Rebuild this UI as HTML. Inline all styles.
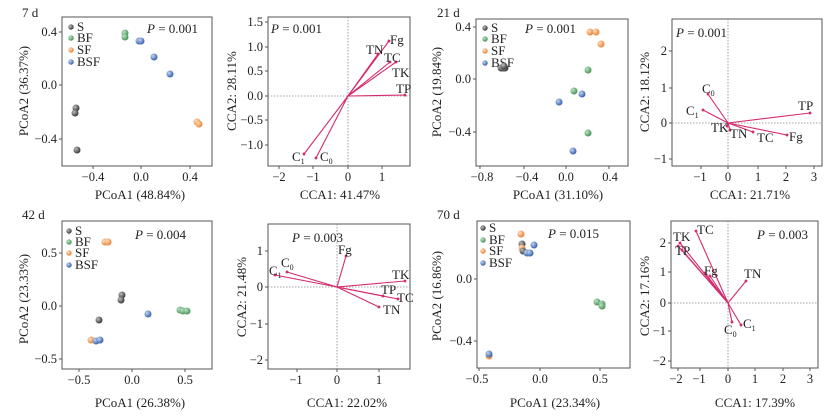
<!DOCTYPE html>
<html><head><meta charset="utf-8"><style>
html,body{margin:0;padding:0;background:#fff}
svg{display:block;font-family:"Liberation Serif",serif}
.t{font-size:12.5px;fill:#222}
.a{font-size:13px;fill:#222}
.l{font-size:13px;fill:#222}
.v{font-size:13px;fill:#222}
.box{fill:none;stroke:#555;stroke-width:1}
.tk{stroke:#555;stroke-width:1}
.dl{stroke:#888;stroke-width:0.8;stroke-dasharray:1.5,1.5}
.ar{stroke:#d42a6e;stroke-width:1.1;marker-end:url(#m)}
</style></head><body>
<svg width="835" height="418" viewBox="0 0 835 418" xmlns="http://www.w3.org/2000/svg">
<defs>
<marker id="m" markerWidth="4" markerHeight="4" refX="2" refY="2" orient="auto"><circle cx="2" cy="2" r="1.3" fill="#d42a6e"/></marker>
<radialGradient id="gS" cx="0.35" cy="0.35" r="0.7"><stop offset="0" stop-color="#bbb"/><stop offset="1" stop-color="#333"/></radialGradient>
<radialGradient id="gB" cx="0.35" cy="0.35" r="0.7"><stop offset="0" stop-color="#bfe3c4"/><stop offset="1" stop-color="#3e8f52"/></radialGradient>
<radialGradient id="gF" cx="0.35" cy="0.35" r="0.7"><stop offset="0" stop-color="#fde0c4"/><stop offset="1" stop-color="#ea7d2c"/></radialGradient>
<radialGradient id="gU" cx="0.35" cy="0.35" r="0.7"><stop offset="0" stop-color="#c3d3f0"/><stop offset="1" stop-color="#2f5ca8"/></radialGradient>
</defs>

<!-- ===== Panel 1: 7 d PCoA ===== -->
<text x="22" y="17" class="a">7 d</text>
<rect x="62" y="17" width="150" height="149" class="box"/>
<g class="tk"><line x1="59" y1="32" x2="62" y2="32"/><line x1="59" y1="85" x2="62" y2="85"/><line x1="59" y1="139" x2="62" y2="139"/>
<line x1="93" y1="166" x2="93" y2="169"/><line x1="141" y1="166" x2="141" y2="169"/><line x1="190" y1="166" x2="190" y2="169"/></g>
<g class="t" text-anchor="end"><text x="57" y="36">0.4</text><text x="57" y="89">0.0</text><text x="57" y="143">−0.4</text></g>
<g class="t" text-anchor="middle"><text x="93" y="181">−0.4</text><text x="141" y="181">0.0</text><text x="190" y="181">0.4</text></g>
<text x="140" y="199" class="a" text-anchor="middle">PCoA1 (48.84%)</text>
<text transform="translate(28,91) rotate(-90)" class="a" text-anchor="middle">PCoA2 (36.37%)</text>
<circle cx="71" cy="27" r="2.7" fill="url(#gS)"/><circle cx="71" cy="38" r="2.7" fill="url(#gB)"/><circle cx="71" cy="50" r="2.7" fill="url(#gF)"/><circle cx="71" cy="62" r="2.7" fill="url(#gU)"/>
<g class="l"><text x="77" y="31">S</text><text x="77" y="42">BF</text><text x="77" y="54">SF</text><text x="77" y="66">BSF</text></g>
<text x="147" y="33" class="l"><tspan font-style="italic">P</tspan> = 0.001</text>
<g><circle cx="76" cy="108" r="3.5" fill="url(#gS)"/><circle cx="75" cy="113" r="3.5" fill="url(#gS)"/><circle cx="77" cy="150" r="3.5" fill="url(#gS)"/>
<circle cx="125" cy="33" r="3.5" fill="url(#gB)"/><circle cx="125" cy="37" r="3.5" fill="url(#gB)"/>
<circle cx="139" cy="41" r="3.5" fill="url(#gU)"/><circle cx="141" cy="41" r="3.5" fill="url(#gU)"/><circle cx="154" cy="57" r="3.5" fill="url(#gU)"/><circle cx="170" cy="74" r="3.5" fill="url(#gU)"/>
<circle cx="197" cy="122" r="3.5" fill="url(#gF)"/><circle cx="199" cy="124" r="3.5" fill="url(#gF)"/></g>

<!-- ===== Panel 2: 7 d CCA ===== -->
<rect x="268" y="17" width="142" height="149" class="box"/>
<line x1="348" y1="17" x2="348" y2="166" class="dl"/><line x1="268" y1="96" x2="410" y2="96" class="dl"/>
<g class="tk"><line x1="265" y1="22" x2="268" y2="22"/><line x1="265" y1="47" x2="268" y2="47"/><line x1="265" y1="71" x2="268" y2="71"/><line x1="265" y1="96" x2="268" y2="96"/><line x1="265" y1="120" x2="268" y2="120"/><line x1="265" y1="145" x2="268" y2="145"/>
<line x1="279" y1="166" x2="279" y2="169"/><line x1="313" y1="166" x2="313" y2="169"/><line x1="348" y1="166" x2="348" y2="169"/><line x1="382" y1="166" x2="382" y2="169"/></g>
<g class="t" text-anchor="end"><text x="263" y="26">1.5</text><text x="263" y="51">1.0</text><text x="263" y="75">0.5</text><text x="263" y="100">0.0</text><text x="263" y="124">−0.5</text><text x="263" y="149">−1.0</text></g>
<g class="t" text-anchor="middle"><text x="279" y="181">−2</text><text x="313" y="181">−1</text><text x="348" y="181">0</text><text x="382" y="181">1</text></g>
<text x="340" y="199" class="a" text-anchor="middle">CCA1: 41.47%</text>
<text transform="translate(236,91) rotate(-90)" class="a" text-anchor="middle">CCA2: 28.11%</text>
<text x="271" y="33" class="l"><tspan font-style="italic">P</tspan> = 0.001</text>
<g class="ar"><line x1="348" y1="96" x2="389" y2="41"/><line x1="348" y1="96" x2="378" y2="54"/><line x1="348" y1="96" x2="390" y2="62"/><line x1="348" y1="96" x2="396" y2="62"/><line x1="348" y1="96" x2="405" y2="95"/><line x1="348" y1="96" x2="304" y2="154"/><line x1="348" y1="96" x2="316" y2="158"/></g>
<g class="v"><text x="390" y="44">Fg</text><text x="366" y="54">TN</text><text x="384" y="62">TC</text><text x="392" y="77">TK</text><text x="396" y="93">TP</text>
<text x="292" y="161">C<tspan font-size="8" dy="3">1</tspan></text><text x="320" y="161">C<tspan font-size="8" dy="3">0</tspan></text></g>

<!-- ===== Panel 3: 21 d PCoA ===== -->
<text x="437" y="17" class="a">21 d</text>
<rect x="476" y="19" width="152" height="147" class="box"/>
<g class="tk"><line x1="473" y1="27" x2="476" y2="27"/><line x1="473" y1="79" x2="476" y2="79"/><line x1="473" y1="132" x2="476" y2="132"/>
<line x1="480" y1="166" x2="480" y2="169"/><line x1="524" y1="166" x2="524" y2="169"/><line x1="566" y1="166" x2="566" y2="169"/><line x1="609" y1="166" x2="609" y2="169"/></g>
<g class="t" text-anchor="end"><text x="471" y="31">0.4</text><text x="471" y="83">0.0</text><text x="471" y="136">−0.4</text></g>
<g class="t" text-anchor="middle"><text x="482" y="181">−0.8</text><text x="527" y="181">−0.4</text><text x="566" y="181">0.0</text><text x="610" y="181">0.4</text></g>
<text x="558" y="199" class="a" text-anchor="middle">PCoA1 (31.10%)</text>
<text transform="translate(441,92) rotate(-90)" class="a" text-anchor="middle">PCoA2 (19.84%)</text>
<circle cx="485" cy="28" r="2.7" fill="url(#gS)"/><circle cx="485" cy="39" r="2.7" fill="url(#gB)"/><circle cx="485" cy="51" r="2.7" fill="url(#gF)"/><circle cx="485" cy="63" r="2.7" fill="url(#gU)"/>
<g class="l"><text x="491" y="32">S</text><text x="491" y="43">BF</text><text x="491" y="55">SF</text><text x="491" y="67">BSF</text></g>
<text x="525" y="33" class="l"><tspan font-style="italic">P</tspan> = 0.001</text>
<g><circle cx="501" cy="68" r="3.5" fill="url(#gS)"/><circle cx="503" cy="68" r="3.5" fill="url(#gS)"/><circle cx="505" cy="68" r="3.5" fill="url(#gS)"/><circle cx="504" cy="66" r="3.5" fill="url(#gS)"/>
<circle cx="588" cy="70" r="3.5" fill="url(#gB)"/><circle cx="574" cy="91" r="3.5" fill="url(#gB)"/><circle cx="588" cy="133" r="3.5" fill="url(#gB)"/>
<circle cx="559" cy="102" r="3.5" fill="url(#gU)"/><circle cx="582" cy="94" r="3.5" fill="url(#gU)"/><circle cx="573" cy="151" r="3.5" fill="url(#gU)"/>
<circle cx="590" cy="32" r="3.5" fill="url(#gF)"/><circle cx="596" cy="32" r="3.5" fill="url(#gF)"/><circle cx="601" cy="44" r="3.5" fill="url(#gF)"/></g>

<!-- ===== Panel 4: 21 d CCA ===== -->
<rect x="672" y="19" width="150" height="147" class="box"/>
<line x1="728" y1="19" x2="728" y2="166" class="dl"/><line x1="672" y1="123" x2="822" y2="123" class="dl"/>
<g class="tk"><line x1="669" y1="51" x2="672" y2="51"/><line x1="669" y1="88" x2="672" y2="88"/><line x1="669" y1="123" x2="672" y2="123"/><line x1="669" y1="159" x2="672" y2="159"/>
<line x1="701" y1="166" x2="701" y2="169"/><line x1="728" y1="166" x2="728" y2="169"/><line x1="758" y1="166" x2="758" y2="169"/><line x1="786" y1="166" x2="786" y2="169"/><line x1="814" y1="166" x2="814" y2="169"/></g>
<g class="t" text-anchor="end"><text x="667" y="55">2</text><text x="667" y="92">1</text><text x="667" y="127">0</text><text x="667" y="163">−1</text></g>
<g class="t" text-anchor="middle"><text x="700" y="181">−1</text><text x="728" y="181">0</text><text x="758" y="181">1</text><text x="786" y="181">2</text><text x="814" y="181">3</text></g>
<text x="750" y="199" class="a" text-anchor="middle">CCA1: 21.71%</text>
<text transform="translate(649,92) rotate(-90)" class="a" text-anchor="middle">CCA2: 18.12%</text>
<text x="676" y="37" class="l"><tspan font-style="italic">P</tspan> = 0.001</text>
<g class="ar"><line x1="728" y1="123" x2="708" y2="94"/><line x1="728" y1="123" x2="703" y2="110"/><line x1="728" y1="123" x2="810" y2="113"/><line x1="728" y1="123" x2="787" y2="135"/><line x1="728" y1="123" x2="753" y2="132"/><line x1="728" y1="123" x2="730" y2="130"/><line x1="728" y1="123" x2="727" y2="126"/></g>
<g class="v"><text x="702" y="93">C<tspan font-size="8" dy="3">0</tspan></text><text x="686" y="115">C<tspan font-size="8" dy="3">1</tspan></text><text x="798" y="110">TP</text><text x="789" y="141">Fg</text><text x="757" y="142">TC</text><text x="730" y="138">TN</text><text x="711" y="132">TK</text></g>

<!-- ===== Panel 5: 42 d PCoA ===== -->
<text x="22" y="219" class="a">42 d</text>
<rect x="62" y="221" width="150" height="148" class="box"/>
<g class="tk"><line x1="59" y1="253" x2="62" y2="253"/><line x1="59" y1="306" x2="62" y2="306"/><line x1="59" y1="359" x2="62" y2="359"/>
<line x1="79" y1="369" x2="79" y2="372"/><line x1="132" y1="369" x2="132" y2="372"/><line x1="185" y1="369" x2="185" y2="372"/></g>
<g class="t" text-anchor="end"><text x="57" y="257">0.5</text><text x="57" y="310">0.0</text><text x="57" y="363">−0.5</text></g>
<g class="t" text-anchor="middle"><text x="79" y="384">−0.5</text><text x="132" y="384">0.0</text><text x="185" y="384">0.5</text></g>
<text x="140" y="407" class="a" text-anchor="middle">PCoA1 (26.38%)</text>
<text transform="translate(28,299) rotate(-90)" class="a" text-anchor="middle">PCoA2 (23.33%)</text>
<circle cx="69" cy="231" r="2.7" fill="url(#gS)"/><circle cx="69" cy="242" r="2.7" fill="url(#gB)"/><circle cx="69" cy="253" r="2.7" fill="url(#gF)"/><circle cx="69" cy="265" r="2.7" fill="url(#gU)"/>
<g class="l"><text x="75" y="235">S</text><text x="75" y="246">BF</text><text x="75" y="257">SF</text><text x="75" y="269">BSF</text></g>
<text x="135" y="239" class="l"><tspan font-style="italic">P</tspan> = 0.004</text>
<g><circle cx="122" cy="295" r="3.5" fill="url(#gS)"/><circle cx="121" cy="300" r="3.5" fill="url(#gS)"/><circle cx="99" cy="320" r="3.5" fill="url(#gS)"/>
<circle cx="180" cy="310" r="3.5" fill="url(#gB)"/><circle cx="183" cy="311" r="3.5" fill="url(#gB)"/><circle cx="187" cy="311" r="3.5" fill="url(#gB)"/>
<circle cx="105" cy="242" r="3.5" fill="url(#gF)"/><circle cx="108" cy="242" r="3.5" fill="url(#gF)"/><circle cx="91" cy="340" r="3.5" fill="url(#gF)"/>
<circle cx="148" cy="314" r="3.5" fill="url(#gU)"/><circle cx="96" cy="341" r="3.5" fill="url(#gU)"/><circle cx="100" cy="340" r="3.5" fill="url(#gU)"/></g>

<!-- ===== Panel 6: 42 d CCA ===== -->
<rect x="268" y="224" width="142" height="145" class="box"/>
<line x1="337" y1="224" x2="337" y2="369" class="dl"/><line x1="268" y1="287" x2="410" y2="287" class="dl"/>
<g class="tk"><line x1="265" y1="251" x2="268" y2="251"/><line x1="265" y1="287" x2="268" y2="287"/><line x1="265" y1="324" x2="268" y2="324"/><line x1="265" y1="360" x2="268" y2="360"/>
<line x1="297" y1="369" x2="297" y2="372"/><line x1="337" y1="369" x2="337" y2="372"/><line x1="379" y1="369" x2="379" y2="372"/></g>
<g class="t" text-anchor="end"><text x="263" y="255">1</text><text x="263" y="291">0</text><text x="263" y="328">−1</text><text x="263" y="364">−2</text></g>
<g class="t" text-anchor="middle"><text x="296" y="384">−1</text><text x="337" y="384">0</text><text x="379" y="384">1</text></g>
<text x="347" y="407" class="a" text-anchor="middle">CCA1: 22.02%</text>
<text transform="translate(246,297) rotate(-90)" class="a" text-anchor="middle">CCA2: 21.48%</text>
<text x="292" y="242" class="l"><tspan font-style="italic">P</tspan> = 0.003</text>
<g class="ar"><line x1="337" y1="287" x2="346" y2="256"/><line x1="337" y1="287" x2="287" y2="272"/><line x1="337" y1="287" x2="275" y2="275"/><line x1="337" y1="287" x2="405" y2="281"/><line x1="337" y1="287" x2="383" y2="296"/><line x1="337" y1="287" x2="398" y2="299"/><line x1="337" y1="287" x2="379" y2="307"/></g>
<g class="v"><text x="338" y="254">Fg</text><text x="269" y="275">C<tspan font-size="8" dy="3">1</tspan></text><text x="281" y="267">C<tspan font-size="8" dy="3">0</tspan></text><text x="392" y="279">TK</text><text x="381" y="294">TP</text><text x="397" y="302">TC</text><text x="383" y="314">TN</text></g>

<!-- ===== Panel 7: 70 d PCoA ===== -->
<text x="437" y="219" class="a">70 d</text>
<rect x="477" y="221" width="153" height="147" class="box"/>
<g class="tk"><line x1="474" y1="279" x2="477" y2="279"/><line x1="474" y1="341" x2="477" y2="341"/>
<line x1="479" y1="368" x2="479" y2="371"/><line x1="540" y1="368" x2="540" y2="371"/><line x1="600" y1="368" x2="600" y2="371"/></g>
<g class="t" text-anchor="end"><text x="472" y="283">0.0</text><text x="472" y="345">−0.4</text></g>
<g class="t" text-anchor="middle"><text x="477" y="383">−0.5</text><text x="540" y="383">0.0</text><text x="600" y="383">0.5</text></g>
<text x="555" y="407" class="a" text-anchor="middle">PCoA1 (23.34%)</text>
<text transform="translate(441,296) rotate(-90)" class="a" text-anchor="middle">PCoA2 (16.86%)</text>
<circle cx="483" cy="228" r="2.7" fill="url(#gS)"/><circle cx="483" cy="240" r="2.7" fill="url(#gB)"/><circle cx="483" cy="251" r="2.7" fill="url(#gF)"/><circle cx="483" cy="263" r="2.7" fill="url(#gU)"/>
<g class="l"><text x="489" y="232">S</text><text x="489" y="244">BF</text><text x="489" y="255">SF</text><text x="489" y="267">BSF</text></g>
<text x="548" y="238" class="l"><tspan font-style="italic">P</tspan> = 0.015</text>
<g><circle cx="521" cy="234" r="3.5" fill="url(#gF)"/><circle cx="522" cy="244" r="3.5" fill="url(#gS)"/><circle cx="522" cy="248" r="3.5" fill="url(#gF)"/><circle cx="523" cy="251" r="3.5" fill="url(#gS)"/>
<circle cx="527" cy="253" r="3.5" fill="url(#gU)"/><circle cx="530" cy="253" r="3.5" fill="url(#gU)"/><circle cx="534" cy="245" r="3.5" fill="url(#gU)"/>
<circle cx="597" cy="302" r="3.5" fill="url(#gB)"/><circle cx="602" cy="304" r="3.5" fill="url(#gB)"/><circle cx="602" cy="306" r="3.5" fill="url(#gB)"/>
<circle cx="489" cy="356" r="3.5" fill="url(#gF)"/><circle cx="489" cy="354" r="3.5" fill="url(#gU)"/></g>

<!-- ===== Panel 8: 70 d CCA ===== -->
<rect x="671" y="221" width="147" height="147" class="box"/>
<line x1="728" y1="221" x2="728" y2="368" class="dl"/><line x1="671" y1="303" x2="818" y2="303" class="dl"/>
<g class="tk"><line x1="668" y1="243" x2="671" y2="243"/><line x1="668" y1="272" x2="671" y2="272"/><line x1="668" y1="303" x2="671" y2="303"/><line x1="668" y1="331" x2="671" y2="331"/><line x1="668" y1="361" x2="671" y2="361"/>
<line x1="678" y1="368" x2="678" y2="371"/><line x1="700" y1="368" x2="700" y2="371"/><line x1="728" y1="368" x2="728" y2="371"/><line x1="755" y1="368" x2="755" y2="371"/><line x1="783" y1="368" x2="783" y2="371"/><line x1="810" y1="368" x2="810" y2="371"/></g>
<g class="t" text-anchor="end"><text x="666" y="247">2</text><text x="666" y="276">1</text><text x="666" y="307">0</text><text x="666" y="335">−1</text><text x="666" y="365">−2</text></g>
<g class="t" text-anchor="middle"><text x="676" y="383">−2</text><text x="699" y="383">−1</text><text x="728" y="383">0</text><text x="755" y="383">1</text><text x="783" y="383">2</text><text x="810" y="383">3</text></g>
<text x="755" y="407" class="a" text-anchor="middle">CCA1: 17.39%</text>
<text transform="translate(649,296) rotate(-90)" class="a" text-anchor="middle">CCA2: 17.16%</text>
<text x="757" y="239" class="l"><tspan font-style="italic">P</tspan> = 0.003</text>
<g class="ar"><line x1="728" y1="303" x2="696" y2="231"/><line x1="728" y1="303" x2="680" y2="243"/><line x1="728" y1="303" x2="678" y2="246"/><line x1="728" y1="303" x2="682" y2="250"/><line x1="728" y1="303" x2="705" y2="273"/><line x1="728" y1="303" x2="710" y2="276"/><line x1="728" y1="303" x2="746" y2="281"/><line x1="728" y1="303" x2="741" y2="325"/><line x1="728" y1="303" x2="732" y2="322"/></g>
<g class="v"><text x="697" y="234">TC</text><text x="673" y="241">TK</text><text x="675" y="255">TP</text><text x="704" y="275">Fg</text><text x="744" y="278">TN</text><text x="743" y="328">C<tspan font-size="8" dy="3">1</tspan></text><text x="724" y="334">C<tspan font-size="8" dy="3">0</tspan></text></g>
</svg>
</body></html>
